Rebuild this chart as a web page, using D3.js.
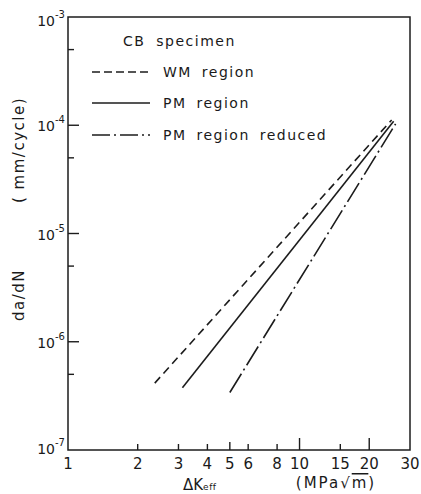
<!DOCTYPE html>
<html><head><meta charset="utf-8">
<script src="https://cdn.jsdelivr.net/npm/d3@7"></script>
<style>
html,body{margin:0;padding:0;background:#fff;}
svg text{font-family:"DejaVu Sans",sans-serif;fill:#1a1a1a;}
</style></head>
<body><svg id="c" width="421" height="494"></svg>
<script>
// ---- data ----
const xTickValues = [1, 2, 3, 4, 5, 6, 8, 10, 15, 20, 30];
const xLongTicks = [10, 20];
const xMidTicks = [5];
const yMajorTicks = [1e-7, 1e-6, 1e-5, 1e-4, 1e-3];
const yExponents = ["-7", "-6", "-5", "-4", "-3"];
const yMinorTicks = [5e-7, 5e-6, 5e-5, 5e-4];
const seriesNames = ["WM region", "PM region", "PM region reduced"];
const wmDeltaK = [2.37, 25.0];
const wmRate = [4.15e-7, 1.12e-4];
const pmDeltaK = [3.12, 25.5];
const pmRate = [3.75e-7, 1.09e-4];
const pmRedDeltaK = [5.0, 26.0];
const pmRedRate = [3.4e-7, 1.03e-4];
const legendTitle = "CB specimen";

// ---- layout ----
const L = 68, R = 410, T = 17, B = 450;
const svg = d3.select("#c");
const x = d3.scaleLog().domain([1, 30]).range([L, R]);
const y = d3.scaleLog().domain([1e-7, 1e-3]).range([B, T]);
const ink = "#1c1c1c";

// frame
svg.append("rect").attr("x", L).attr("y", T).attr("width", R - L).attr("height", B - T)
  .attr("fill", "none").attr("stroke", ink).attr("stroke-width", 1.5);

// x axis ticks (inward)
const gx = svg.append("g").attr("transform", `translate(0,${B})`);
const tickLen = d => xLongTicks.includes(d) ? 12 : (xMidTicks.includes(d) ? 8 : 6);
gx.selectAll("line.t").data(xTickValues.filter(d => d > 1 && d < 30)).join("line")
  .attr("x1", d => x(d)).attr("x2", d => x(d)).attr("y1", 0).attr("y2", d => -tickLen(d))
  .attr("stroke", ink).attr("stroke-width", 1.4);
gx.selectAll("text").data(xTickValues).join("text")
  .attr("x", d => x(d)).attr("y", 19).attr("text-anchor", "middle")
  .attr("font-size", 15).text(d => d);

// y axis ticks (inward)
const gy = svg.append("g").attr("transform", `translate(${L},0)`);
gy.selectAll("line.maj").data(yMajorTicks.filter(d => d > 1e-7 && d < 1e-3)).join("line")
  .attr("x1", 0).attr("x2", 11).attr("y1", d => y(d)).attr("y2", d => y(d))
  .attr("stroke", ink).attr("stroke-width", 1.4);
gy.selectAll("line.min").data(yMinorTicks).join("line")
  .attr("x1", 0).attr("x2", 6).attr("y1", d => y(d)).attr("y2", d => y(d))
  .attr("stroke", ink).attr("stroke-width", 1.4);
const yl = gy.selectAll("text").data(yMajorTicks).join("text")
  .attr("x", -3).attr("y", (d, i) => y(d) + (i === 4 ? 9 : (i === 0 ? 4 : 6)))
  .attr("text-anchor", "end").attr("font-size", 14);
yl.append("tspan").text("10");
yl.append("tspan").attr("font-size", 10).attr("dy", -8).text((d, i) => yExponents[i]);

// axis titles
const xt = svg.append("text").attr("x", 183).attr("y", 490).attr("font-size", 15);
xt.append("tspan").text("ΔK");
xt.append("tspan").attr("font-size", 9).attr("letter-spacing", 0.5).text("eff");
const ut = svg.append("text").attr("x", 336).attr("y", 488).attr("text-anchor", "middle")
  .attr("font-size", 15).attr("letter-spacing", 2);
ut.append("tspan").text("(MPa√");
ut.append("tspan").attr("text-decoration", "overline").text("m");
ut.append("tspan").text(")");
svg.append("text").attr("transform", "translate(24,295) rotate(-90)").attr("text-anchor", "middle")
  .attr("font-size", 15).attr("letter-spacing", 1.5).text("da/dN");
svg.append("text").attr("transform", "translate(24,150) rotate(-90)").attr("text-anchor", "middle")
  .attr("font-size", 15).attr("letter-spacing", 1.5).text("( mm/cycle)");

// series
const dashes = ["8,5", null, "22,4,2,4"];
const series = [
  {k: wmDeltaK, r: wmRate},
  {k: pmDeltaK, r: pmRate},
  {k: pmRedDeltaK, r: pmRedRate}
];
const line = d3.line().x(d => x(d[0])).y(d => y(d[1]));
series.forEach((s, i) => {
  svg.append("path").attr("d", line(d3.zip(s.k, s.r)))
    .attr("fill", "none").attr("stroke", ink).attr("stroke-width", 1.6)
    .attr("stroke-dasharray", dashes[i]);
});

// legend
svg.append("text").attr("x", 123).attr("y", 46).attr("font-size", 14)
  .attr("letter-spacing", 1.5).attr("word-spacing", 5).text(legendTitle);
const legY = [72, 103, 135];
seriesNames.forEach((n, i) => {
  svg.append("line").attr("x1", 92).attr("x2", 150).attr("y1", legY[i]).attr("y2", legY[i])
    .attr("stroke", ink).attr("stroke-width", 1.6).attr("stroke-dasharray", dashes[i] ? (i === 2 ? "18,4,2,4" : "8,4") : null);
  svg.append("text").attr("x", 163).attr("y", legY[i] + 5).attr("font-size", 14)
    .attr("letter-spacing", 1.5).attr("word-spacing", 4).text(n);
});
</script></body></html>
